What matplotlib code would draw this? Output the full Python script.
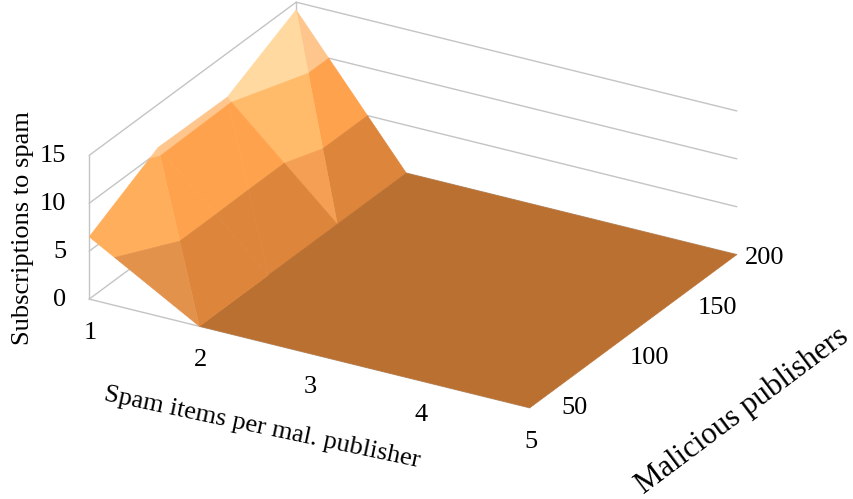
import matplotlib
matplotlib.use("Agg")
import matplotlib.pyplot as plt
from mpl_toolkits.mplot3d.art3d import Poly3DCollection
from mpl_toolkits.mplot3d import proj3d

plt.rcParams["font.family"] = ["Liberation Serif", "DejaVu Serif"]

# Chart data
spam_items = [1, 2, 3, 4, 5]
publishers = [50, 100, 150, 200]
subscriptions = [
    [6.5, 0, 0, 0, 0],
    [10.5, 0, 0, 0, 0],
    [10.4, 0, 0, 0, 0],
    [14.2, 0, 0, 0, 0],
]
z_ticks = [0, 5, 10, 15]
bands = [(0, 5), (5, 10), (10, 15)]

# Styling
FLOOR = "#BA7031"
UPPER = ["#DC853B", "#FFA24D", "#FEC68C"]
LOWER = {
    0: ["#E3924C", "#FFAF5C", "#FFC88F"],
    1: UPPER,
    2: ["#F49F54", "#FFBB6A", "#FFD9A0"],
}
GRID = "#C4C4C4"


def clip_band(tri, lo, hi):
    """Cut a triangle down to the part whose height lies between lo and hi."""
    def clip(poly, keep, level):
        out = []
        for i, p in enumerate(poly):
            q = poly[(i + 1) % len(poly)]
            if keep(p[2]):
                out.append(p)
            if keep(p[2]) != keep(q[2]):
                t = (level - p[2]) / (q[2] - p[2])
                out.append(tuple(a + t * (b - a) for a, b in zip(p, q)))
        return out
    poly = clip(list(tri), lambda z: z >= lo, lo)
    return clip(poly, lambda z: z <= hi, hi) if poly else []


x0, x1 = spam_items[0], spam_items[-1]
y0, y1 = publishers[0], publishers[-1]

# Cells that are flat at zero share one floor polygon, which leaves no seams.
polys = [[(spam_items[1], y0, 0), (x1, y0, 0), (x1, y1, 0), (spam_items[1], y1, 0)]]
colors = [FLOOR]
for j in range(len(publishers) - 1):
    for i in range(len(spam_items) - 1):
        v = lambda a, b: (spam_items[a], publishers[b], subscriptions[b][a])
        lower = (v(i, j), v(i, j + 1), v(i + 1, j))
        upper = (v(i, j + 1), v(i + 1, j), v(i + 1, j + 1))
        for tri, palette in ((lower, LOWER[j]), (upper, UPPER)):
            if max(p[2] for p in tri) == 0:
                continue
            for (lo, hi), col in zip(bands, palette):
                part = clip_band(tri, lo, hi)
                if len(part) >= 3:
                    polys.append(part)
                    colors.append(col)

fig = plt.figure(figsize=(8.54, 4.99), dpi=100, facecolor="white")
ax = fig.add_axes([166.5 / 854, 47.5 / 499, 480 / 854, 480 / 499],
                  projection="3d", computed_zorder=False)
ax.set_proj_type("ortho")
ax.view_init(elev=25.3, azim=-60)
ax.set_box_aspect((509, 414, 159), zoom=1.365)
ax.set_xlim(x0, x1)
ax.set_ylim(y0, y1)
ax.set_zlim(z_ticks[0], z_ticks[-1])
ax.set_axis_off()

line = dict(color=GRID, lw=1.0, zorder=1, solid_capstyle="round", clip_on=False)
for z in z_ticks:
    ax.plot([x0, x0], [y0, y1], [z, z], **line)
    ax.plot([x0, x1], [y1, y1], [z, z], **line)
ax.plot([x0, x0], [y0, y0], [z_ticks[0], z_ticks[-1]], **line)
ax.plot([x0, x0], [y1, y1], [z_ticks[0], z_ticks[-1]], **line)
ax.plot([x0, x1], [y0, y0], [0, 0], **line)

surface = Poly3DCollection(polys, facecolors=colors, edgecolors=colors,
                           linewidths=0.4, zorder=2, clip_on=False)
ax.add_collection3d(surface)


def label(x, y, z, text, dx, dy, **kw):
    """Place text at a pixel offset from a point given in data coordinates."""
    px, py, _ = proj3d.proj_transform(x, y, z, ax.get_proj())
    ax.annotate(text, (px, py), xytext=(dx * 0.72, -dy * 0.72),
                textcoords="offset points", annotation_clip=False, **kw)


tick_font = dict(fontsize=19, color="black")
for x in spam_items:
    label(x, y0, 0, str(x), 1, 34, ha="center", va="center", **tick_font)
for z in z_ticks:
    label(x0, y0, z, str(z), -23, 1, ha="right", va="center", **tick_font)
y_offsets = [(45, 0), (51, 1), (50, 2), (28, 3)]
for y, (dx, dy) in zip(publishers, y_offsets):
    label(x1, y, 0, str(y), dx, dy, ha="center", va="center", **tick_font)

fig.text(23 / 854, 1 - 228 / 499, "Subscriptions to spam", rotation=90,
         ha="center", va="center", fontsize=19)
fig.text(262 / 854, 1 - 428 / 499, "Spam items per mal. publisher", rotation=-12,
         ha="center", va="center", rotation_mode="anchor", fontsize=19)
fig.text(742 / 854, 1 - 411 / 499, "Malicious publishers", rotation=36.9,
         ha="center", va="center", rotation_mode="anchor", fontsize=22.2)

fig.savefig("out.png", dpi=100)
